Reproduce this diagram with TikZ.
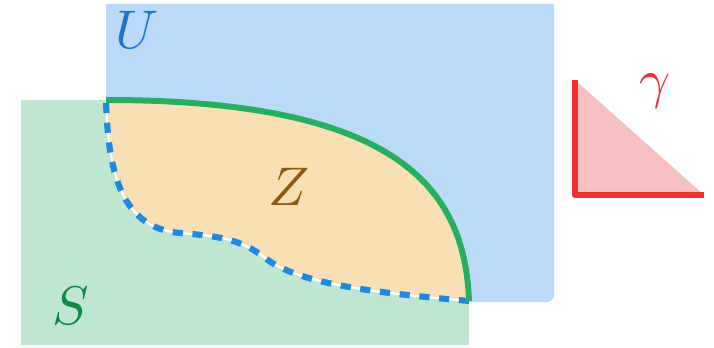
\documentclass[tikz,border=0pt]{standalone}
\usepackage{tikz}
\definecolor{ublue}{HTML}{BBDAF7}
\definecolor{sgreen}{HTML}{BEE6D0}
\definecolor{zorange}{HTML}{F8E0B4}
\definecolor{edgegreen}{HTML}{27AE60}
\definecolor{edgeblue}{HTML}{1E88E5}
\definecolor{gred}{HTML}{EE3030}
\definecolor{gpink}{HTML}{F7C1C1}
\definecolor{utext}{HTML}{1B75D0}
\definecolor{stext}{HTML}{0E8A45}
\definecolor{ztext}{HTML}{8B5A0A}

\begin{document}
\begin{tikzpicture}[
    x=0.02cm, y=-0.02cm,
    lbl/.style={scale=3.1, inner sep=0pt},
    closed/.style={draw=edgegreen, line width=3.4pt},
    open/.style={draw=edgeblue, line width=3.5pt, dash pattern=on 5.8pt off 5.5pt},
    under/.style={draw=white, line width=1.2pt}
]
    \useasboundingbox (0,0) rectangle (714,348);

    % Regionen S und U
    \fill[sgreen] (21,100) rectangle (469,345);
    \fill[ublue] (106,4) -- (554,4) [rounded corners=4pt] -- (554,302) [sharp corners] -- (106,302) -- cycle;

    % Menge Z mit Rand
    \coordinate (za) at (106,100);
    \coordinate (zb) at (469,301);
    \coordinate (zc) at (469,302);
    \coordinate (zd) at (106,302);
    \fill[sgreen] (zb) .. controls (380,293) and (300,285) .. (265,258)
        .. controls (240,238) and (215,236) .. (180,233)
        .. controls (120,228) and (108,170) .. (za) -- (zd) -- (zc) -- cycle;
    \fill[zorange] (za) .. controls (400,100) and (465,190) .. (zb)
        .. controls (380,293) and (300,285) .. (265,258)
        .. controls (240,238) and (215,236) .. (180,233)
        .. controls (120,228) and (108,170) .. (za) -- cycle;
    \draw[under] (zb) .. controls (380,293) and (300,285) .. (265,258)
        .. controls (240,238) and (215,236) .. (180,233)
        .. controls (120,228) and (108,170) .. (za);
    \draw[open] (zb) .. controls (380,293) and (300,285) .. (265,258)
        .. controls (240,238) and (215,236) .. (180,233)
        .. controls (120,228) and (108,170) .. (za);
    \draw[closed] (za) .. controls (400,100) and (465,190) .. (zb);

    % Kegel gamma
    \coordinate (gtop) at (575,80);
    \coordinate (gcorner) at (575,195);
    \coordinate (gright) at (704,195);
    \fill[gpink] (gtop) -- (gcorner) -- (gright) -- cycle;
    \draw[gred, line width=3.4pt, line join=round] (gtop) -- (gcorner) -- (gright);

    % Beschriftungen
    \node[lbl, text=utext] (ulbl) at (137,30) {$U$};
    \node[lbl, text=stext] (slbl) at (71,306) {$S$};
    \node[lbl, text=ztext] (zlbl) at (289,187) {$Z$};
    \node[lbl, text=gred] (glbl) at (655,91) {$\gamma$};
\end{tikzpicture}
\end{document}
